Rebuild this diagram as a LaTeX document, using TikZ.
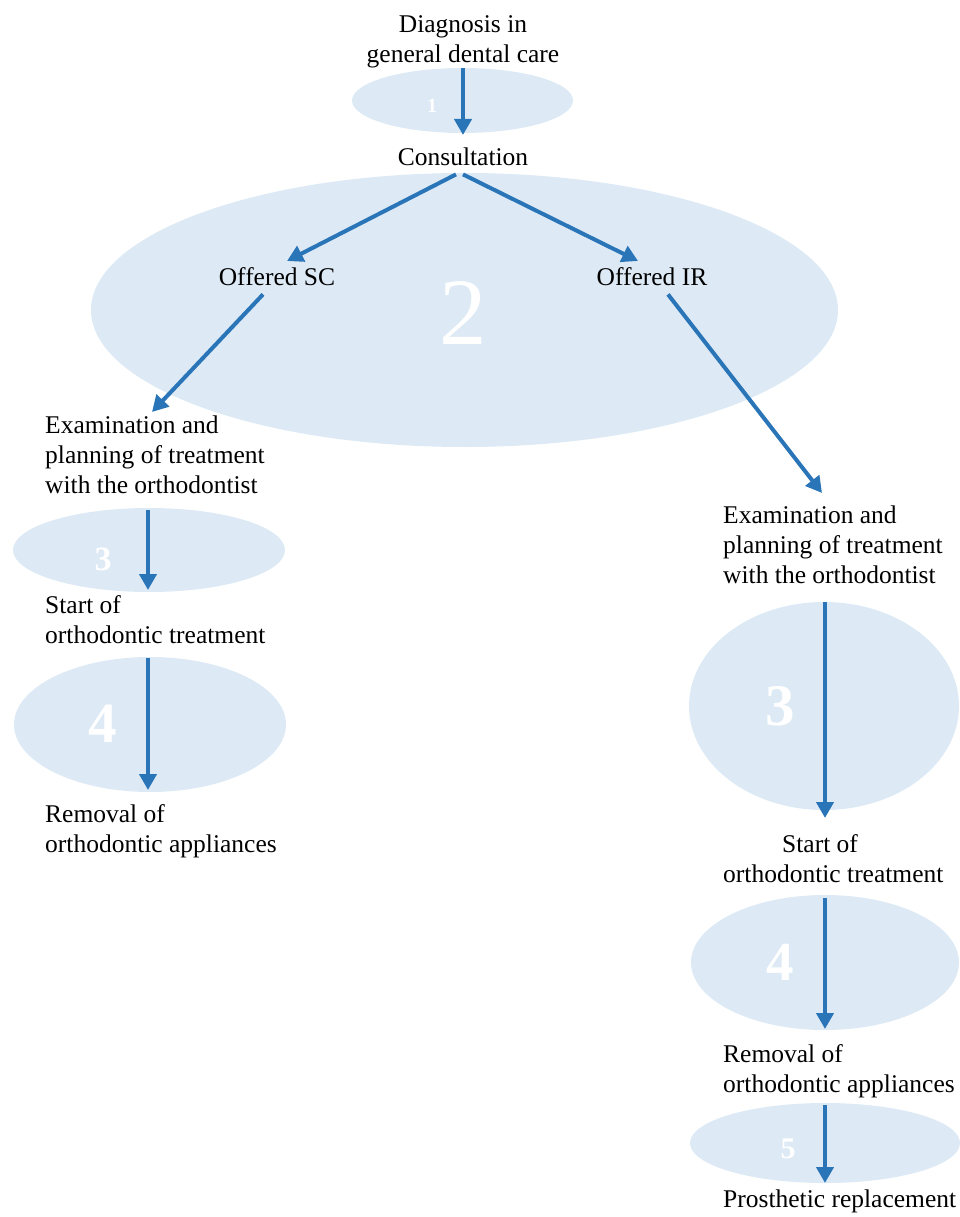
\documentclass[tikz,border=0pt]{standalone}
\usepackage{fontspec}
\setmainfont{Liberation Serif}
\usetikzlibrary{arrows.meta}
\definecolor{ellfill}{HTML}{DDEAF5}
\definecolor{arrblue}{HTML}{2A74B8}
\tikzset{
  ell/.style={fill=ellfill},
  lbl/.style={inner sep=0pt, font=\fontsize{25.5}{30}\selectfont},
  num/.style={inner sep=0pt, anchor=base, text=white},
  arr/.style={draw=arrblue, line width=4pt, -{Triangle[width=17pt,length=16pt]}}
}
\begin{document}
\begin{tikzpicture}[x=1pt,y=-1pt]
\useasboundingbox (0,0) rectangle (959,1217);
% ellipses
\fill[ell] (462.5,100.5) ellipse [x radius=110.5pt, y radius=32.5pt];
\fill[ell] (464.5,310) ellipse [x radius=373.5pt, y radius=137pt];
\fill[ell] (149,550) ellipse [x radius=136pt, y radius=42pt];
\fill[ell] (150,724.5) ellipse [x radius=136pt, y radius=67.5pt];
\fill[ell] (824,706) ellipse [x radius=135pt, y radius=104pt];
\fill[ell] (825,962.5) ellipse [x radius=134pt, y radius=67.5pt];
\fill[ell] (825,1143) ellipse [x radius=135pt, y radius=40pt];
% numbers
\node[num, font=\fontsize{20}{20}\selectfont\bfseries] (n1) at (432,113) {1};
\node[num, font=\fontsize{95}{95}\selectfont] (n2) at (463,344) {2};
\node[num, font=\fontsize{34}{34}\selectfont\bfseries] (nl3) at (103,570) {3};
\node[num, font=\fontsize{57}{57}\selectfont\bfseries] (nl4) at (103,742) {4};
\node[num, font=\fontsize{59}{59}\selectfont\bfseries] (nr3) at (780,725) {3};
\node[num, font=\fontsize{55}{55}\selectfont\bfseries] (nr4) at (780,980) {4};
\node[num, font=\fontsize{30}{30}\selectfont\bfseries] (n5) at (788,1158) {5};
% labels
\node[lbl, anchor=north, align=center] (diag) at (463,11) {\strut Diagnosis in\\\strut general dental care};
\node[lbl, anchor=north] (cons) at (463,144) {\strut Consultation};
\node[lbl, anchor=north] (osc) at (277,264) {\strut Offered SC};
\node[lbl, anchor=north] (oir) at (652,264) {\strut Offered IR};
\node[lbl, anchor=north west, align=left] (lexam) at (45,412) {\strut Examination and\\\strut planning of treatment\\\strut with the orthodontist};
\node[lbl, anchor=north west, align=left] (lstart) at (45,592) {\strut Start of\\\strut orthodontic treatment};
\node[lbl, anchor=north west, align=left] (lrem) at (45,801) {\strut Removal of\\\strut orthodontic appliances};
\node[lbl, anchor=north west, align=left] (rexam) at (723,502) {\strut Examination and\\\strut planning of treatment\\\strut with the orthodontist};
\node[lbl, anchor=north west, align=left] (rstart) at (723,831) {\strut\hspace*{59pt}Start of\\\strut orthodontic treatment};
\node[lbl, anchor=north west, align=left] (rrem) at (723,1041) {\strut Removal of\\\strut orthodontic appliances};
\node[lbl, anchor=north west] (pros) at (723,1186) {\strut Prosthetic replacement};
% connectors
\draw[arr] ([yshift=3pt]diag.south) -- ([yshift=9pt]cons.north);
\draw[arr] ([xshift=-7pt]cons.south) -- ([xshift=10pt,yshift=3pt]osc.north);
\draw[arr] (cons.south) -- ([xshift=-14pt,yshift=3pt]oir.north);
\draw[arr] ([xshift=-14pt]osc.south) -- ([xshift=107pt]lexam.north west);
\draw[arr] ([xshift=16pt]oir.south) -- ([xshift=99pt,yshift=9pt]rexam.north west);
\draw[arr] ([xshift=103pt,yshift=-8pt]lexam.south west) -- ([xshift=103pt,yshift=2pt]lstart.north west);
\draw[arr] ([xshift=103pt,yshift=-6pt]lstart.south west) -- ([xshift=103pt,yshift=11pt]lrem.north west);
\draw[arr] ([xshift=102pt,yshift=-10pt]rexam.south west) -- ([xshift=102pt,yshift=13pt]rstart.north west);
\draw[arr] ([xshift=102pt,yshift=-7pt]rstart.south west) -- ([xshift=102pt,yshift=12pt]rrem.north west);
\draw[arr] ([xshift=102pt,yshift=-4pt]rrem.south west) -- ([xshift=102pt,yshift=3pt]pros.north west);
\end{tikzpicture}
\end{document}
